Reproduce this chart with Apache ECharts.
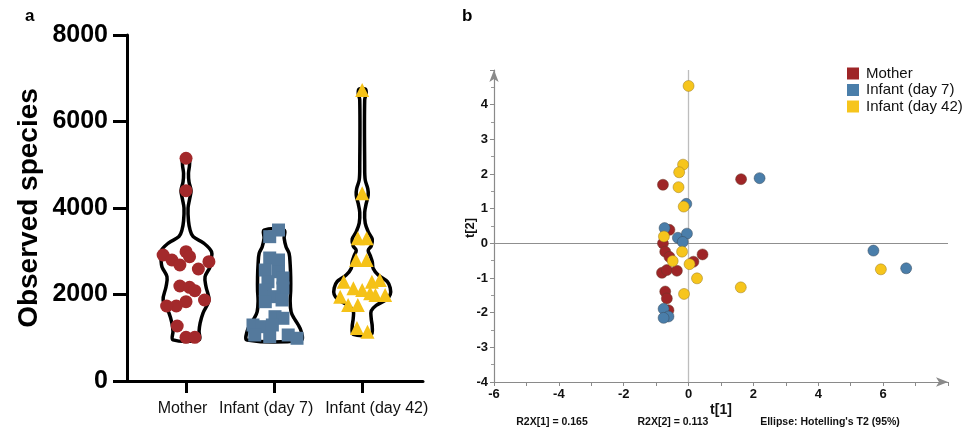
<!DOCTYPE html>
<html><head><meta charset="utf-8">
<script src="https://cdn.jsdelivr.net/npm/echarts@6/dist/echarts.min.js"></script>
<style>html,body{margin:0;padding:0;background:#fff}#c{width:969px;height:429px}</style>
</head><body><div id="c"></div>
<script>
// ---------- DATA ----------
const groups = ['Mother', 'Infant (day 7)', 'Infant (day 42)'];

// Panel a: observed species per sample (value) and beeswarm horizontal offset (category units)
const motherSpecies = [5150, 4400, 2990, 2913, 2875, 2798, 2759, 2682, 2590, 2197, 2166, 2089, 1873, 1834, 1734, 1734, 1272, 1010, 1010];
const motherJitter  = [0, 0, 0, -0.26, 0.04, -0.16, 0.26, -0.07, 0.14, -0.07, 0.04, 0.10, 0.21, 0, -0.11, -0.22, -0.10, 0, 0.10];
const day7Species = [3491, 3337, 2844, 2798, 2566, 2527, 2382, 2296, 2150, 2104, 1950, 1873, 1834, 1487, 1450, 1295, 1256, 1295, 1064, 1025, 1064, 988];
const day7Jitter  = [0.05, -0.05, -0.05, 0.05, -0.10, 0.05, 0.10, -0.07, 0.10, -0.10, 0, 0.09, -0.10, 0.01, 0.10, -0.24, -0.14, -0.02, -0.22, -0.05, 0.16, 0.26];
const day42Species = [6728, 4340, 3300, 3300, 2800, 2800, 2296, 2296, 2335, 2143, 2104, 2027, 1950, 1988, 1988, 1757, 1757, 1225, 1140];
const day42Jitter  = [0, 0, -0.05, 0.05, -0.07, 0.05, -0.21, 0.11, 0.20, -0.10, 0, 0.09, -0.25, 0.26, 0.15, -0.16, -0.05, -0.06, 0.06];
const yTicksA = [0, 2000, 4000, 6000, 8000];

// Violin density profiles: [observed species, half-width in category units]
const motherProfile = [[5180,.034],[5000,.04],[4800,.028],[4600,.034],[4400,.057],[4200,.04],[4000,.023],[3700,.028],[3500,.045],[3340,.08],[3190,.2],[2990,.29],[2800,.284],[2640,.273],[2410,.216],[2180,.227],[1870,.26],[1570,.193],[1340,.16],[1150,.148],[950,.148]];
const day7Profile = [[3490,.114],[3300,.114],[3100,.136],[2950,.17],[2700,.182],[2400,.188],[2100,.188],[1850,.182],[1600,.193],[1450,.227],[1300,.273],[1150,.307],[950,.307]];
const day42Profile = [[6750,.034],[6650,.045],[6500,.028],[5000,.028],[4650,.034],[4450,.063],[4300,.068],[4100,.045],[3900,.028],[3650,.034],[3450,.068],[3280,.114],[3120,.102],[3020,.068],[2900,.091],[2760,.114],[2600,.125],[2450,.182],[2300,.284],[2150,.318],[2000,.318],[1880,.273],[1750,.159],[1620,.102],[1450,.102],[1250,.114],[1080,.102]];

// Panel b: PCA scores t[1], t[2]
const motherT1 = [-0.79, 1.62, -0.59, -0.79, -0.72, -0.59, 0.43, 0.15, -0.82, -0.67, -0.36, -0.72, -0.67, -0.62];
const motherT2 = [1.69, 1.85, 0.39, 0.00, -0.24, -0.39, -0.32, -0.53, -0.85, -0.77, -0.79, -1.39, -1.59, -1.93];
const day7T1 = [2.19, -0.07, -0.74, -0.33, -0.05, -0.18, 5.70, 6.71, -0.77, -0.62, -0.77];
const day7T2 = [1.88, 1.14, 0.44, 0.16, 0.28, 0.04, -0.21, -0.72, -1.89, -2.11, -2.15];
const day42T1 = [0.00, -0.17, -0.29, -0.31, -0.15, -0.76, -0.20, -0.49, 0.03, 0.26, 5.93, 1.61, -0.14];
const day42T2 = [4.54, 2.27, 2.05, 1.62, 1.06, 0.20, -0.24, -0.51, -0.60, -1.01, -0.75, -1.27, -1.46];

const r2x1 = 0.165, r2x2 = 0.113;

// ---------- CHART ----------
const FONT = 'Liberation Sans, Arial, Helvetica, sans-serif';
const colA = ['#a3292b', '#54799c', '#f5c218'];
const colB = ['#9e2527', '#4a7eaa', '#f6c51c'];
const profiles = [motherProfile, day7Profile, day42Profile];
// horizontal nudges (px) of the group labels, as set in the original figure
const labelNudge = [-3.5, -8, 14.5];

const zip = (a, b) => a.map((v, i) => [v, b[i]]);
const swarm = (vals, jit, g) => vals.map((v, i) => [g + 1 + jit[i], v]);

const chart = echarts.init(document.getElementById('c'), null, {renderer: 'canvas'});
const option = {
  backgroundColor: '#fff',
  animation: false,
  textStyle: {fontFamily: FONT},
  grid: [
    {left: 127, top: 35, width: 296, height: 346},
    {left: 494, top: 70, width: 454, height: 312}
  ],
  xAxis: [
    {
      gridIndex: 0, type: 'value', min: 0.33, max: 3.69,
      axisLine: {lineStyle: {color: '#000', width: 3}},
      axisTick: {show: true, customValues: [1, 2, 3], length: 12, lineStyle: {color: '#000', width: 3}},
      axisLabel: {show: false},
      splitLine: {show: false}
    },
    {
      gridIndex: 1, type: 'value', min: -6, max: 8, interval: 1,
      axisLine: {onZero: false, symbol: ['none', 'arrow'], symbolSize: [7, 12], lineStyle: {color: '#8a8a8a', width: 1.2}},
      axisTick: {show: true, length: 4, lineStyle: {color: '#8a8a8a'}},
      axisLabel: {formatter: v => (v % 2 === 0 && v < 8) ? String(v) : '', fontSize: 13, fontWeight: 'bold', color: '#111', margin: 6, fontFamily: FONT},
      splitLine: {show: false}
    }
  ],
  yAxis: [
    {
      gridIndex: 0, type: 'value', min: yTicksA[0], max: yTicksA[yTicksA.length - 1], interval: yTicksA[1] - yTicksA[0],
      name: 'Observed species', nameLocation: 'middle', nameGap: 84,
      nameTextStyle: {fontSize: 28, fontWeight: 'bold', color: '#000', fontFamily: FONT},
      axisLine: {show: true, lineStyle: {color: '#000', width: 3}},
      axisTick: {show: true, length: 14, lineStyle: {color: '#000', width: 3}},
      axisLabel: {formatter: v => String(v), fontSize: 25, fontWeight: 'bold', color: '#000', margin: 19, fontFamily: FONT},
      splitLine: {show: false}
    },
    {
      gridIndex: 1, type: 'value', min: -4, max: 5, interval: 1,
      axisLine: {show: true, onZero: false, symbol: ['none', 'arrow'], symbolSize: [7, 12], lineStyle: {color: '#8a8a8a', width: 1.2}},
      axisTick: {show: true, length: 4, lineStyle: {color: '#8a8a8a'}},
      minorTick: {show: true, splitNumber: 2, length: 3, lineStyle: {color: '#9a9a9a'}},
      axisLabel: {formatter: v => v < 5 ? String(v) : '', fontSize: 13, fontWeight: 'bold', color: '#111', margin: 6, fontFamily: FONT},
      splitLine: {show: false}
    }
  ],
  legend: {
    data: groups, orient: 'vertical', left: 847, top: 66, padding: 0,
    icon: 'rect', itemWidth: 12, itemHeight: 12, itemGap: 1.5,
    itemStyle: {borderWidth: 0},
    textStyle: {fontSize: 15, lineHeight: 14, color: '#111', fontFamily: FONT, padding: [0, 0, 0, 2]}
  },
  graphic: [
    {type: 'text', left: 25, top: 8, style: {text: 'a', font: 'bold 17px ' + FONT, fill: '#000'}},
    {type: 'text', left: 462, top: 8, style: {text: 'b', font: 'bold 17px ' + FONT, fill: '#000'}},
    {type: 'text', x: 721, y: 410, style: {text: 't[1]', font: 'bold 14px ' + FONT, fill: '#111', align: 'center', verticalAlign: 'middle'}},
    {type: 'text', x: 470, y: 228, rotation: Math.PI / 2, style: {text: 't[2]', font: 'bold 13px ' + FONT, fill: '#111', align: 'center', verticalAlign: 'middle'}},
    {type: 'text', x: 552, y: 422, style: {text: 'R2X[1] = ' + r2x1.toFixed(3), font: 'bold 10.5px ' + FONT, fill: '#111', align: 'center', verticalAlign: 'middle'}},
    {type: 'text', x: 673, y: 422, style: {text: 'R2X[2] = ' + r2x2.toFixed(3), font: 'bold 10.5px ' + FONT, fill: '#111', align: 'center', verticalAlign: 'middle'}},
    {type: 'text', x: 830, y: 422, style: {text: "Ellipse: Hotelling's T2 (95%)", font: 'bold 10.5px ' + FONT, fill: '#111', align: 'center', verticalAlign: 'middle'}}
  ],
  series: [
    {
      type: 'custom', name: 'violins', xAxisIndex: 0, yAxisIndex: 0, z: 2, silent: true,
      data: groups.map((g, i) => [i + 1, 0]),
      encode: {x: 0, y: 1},
      renderItem: (params, api) => {
        const idx = params.dataIndex;
        const prof = profiles[idx];
        const cx = idx + 1;
        const left = prof.map(p => api.coord([cx - p[1], p[0]]));
        const right = prof.slice().reverse().map(p => api.coord([cx + p[1], p[0]]));
        return {type: 'polygon', shape: {points: left.concat(right), smooth: 0.35}, style: {fill: '#fff', stroke: '#000', lineWidth: 3.5}};
      }
    },
    {type: 'scatter', name: 'a-Mother', xAxisIndex: 0, yAxisIndex: 0, z: 3, symbol: 'circle', symbolSize: 13, itemStyle: {color: colA[0], opacity: 1}, data: swarm(motherSpecies, motherJitter, 0)},
    {type: 'scatter', name: 'a-Infant7', xAxisIndex: 0, yAxisIndex: 0, z: 3, symbol: 'rect', symbolSize: 13, itemStyle: {color: colA[1], opacity: 1}, data: swarm(day7Species, day7Jitter, 1)},
    {type: 'scatter', name: 'a-Infant42', xAxisIndex: 0, yAxisIndex: 0, z: 3, symbol: 'triangle', symbolSize: 14, itemStyle: {color: colA[2], opacity: 1}, data: swarm(day42Species, day42Jitter, 2)},
    {
      type: 'scatter', name: groups[0], xAxisIndex: 1, yAxisIndex: 1, z: 3, symbolSize: 11,
      itemStyle: {color: colB[0], borderColor: '#6a3a2a', borderWidth: 0.5, opacity: 1}, data: zip(motherT1, motherT2),
      markLine: {
        silent: true, symbol: ['none', 'none'], label: {show: false}, z: 1,
        data: [
          {xAxis: 0, lineStyle: {color: '#bdbdbd', width: 1.3, type: 'solid'}},
          {yAxis: 0, lineStyle: {color: '#8f8f8f', width: 1.1, type: 'solid'}}
        ]
      }
    },
    {type: 'scatter', name: groups[1], xAxisIndex: 1, yAxisIndex: 1, z: 3, symbolSize: 11, itemStyle: {color: colB[1], borderColor: '#3a4a5a', borderWidth: 0.5, opacity: 1}, data: zip(day7T1, day7T2)},
    {type: 'scatter', name: groups[2], xAxisIndex: 1, yAxisIndex: 1, z: 3, symbolSize: 11, itemStyle: {color: colB[2], borderColor: '#9a7a20', borderWidth: 0.5, opacity: 1}, data: zip(day42T1, day42T2)}
  ]
};
chart.setOption(option);

// group labels under the category ticks of panel a, positioned via the axis scale
const axisY = chart.convertToPixel({yAxisIndex: 0}, 0);
const groupLabels = groups.map((g, i) => ({
  type: 'text',
  x: chart.convertToPixel({xAxisIndex: 0}, i + 1) + labelNudge[i],
  y: axisY + 28,
  style: {text: g, font: '16px ' + FONT, fill: '#111', align: 'center', verticalAlign: 'middle'}
}));
chart.setOption({graphic: option.graphic.concat(groupLabels)});
</script>
</body></html>
